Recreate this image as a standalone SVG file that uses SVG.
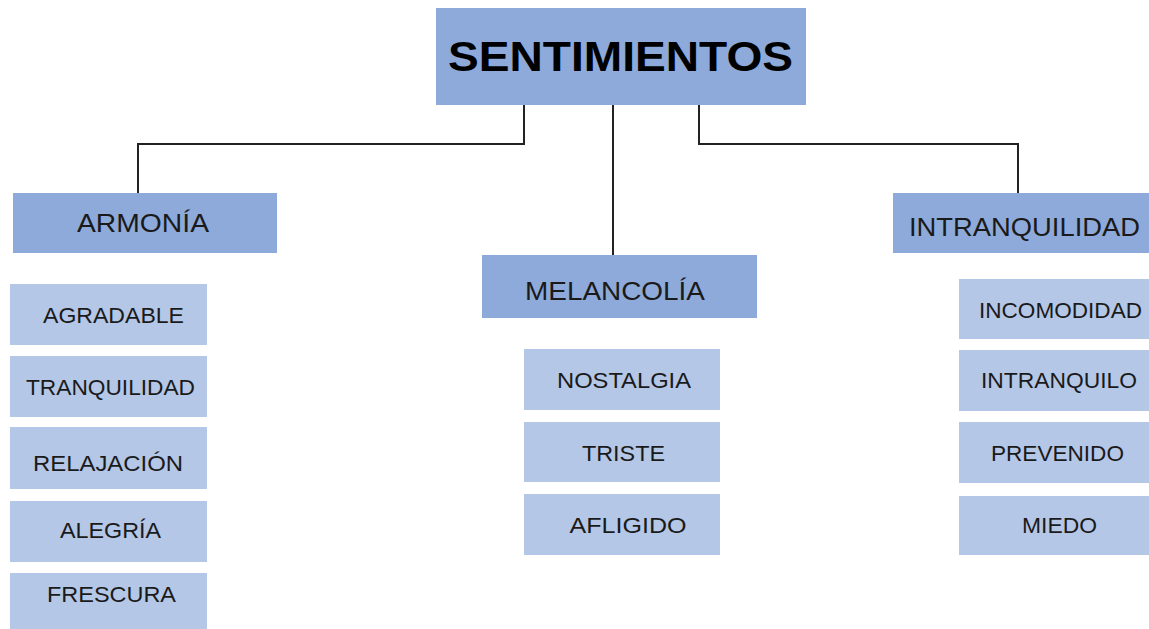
<svg xmlns="http://www.w3.org/2000/svg" width="1149" height="629" viewBox="0 0 1149 629">
<style>
.top{fill:#8eaadb}
.l2{fill:#8eaadb}
.sub{fill:#b4c7e7}
text{font-family:"Liberation Sans",Arial,sans-serif;fill:#1a1a1a;text-anchor:middle}
.t0{font-size:43px;font-weight:bold;fill:#000}
.t2{font-size:26px}
.t3{font-size:22px}
.conn{fill:none;stroke:#222;stroke-width:2}
</style>
<rect width="1149" height="629" fill="#fff"/>
<g id="connectors">
<path class="conn" d="M524,105 V144 H138 V193"/>
<path class="conn" d="M613,105 V255"/>
<path class="conn" d="M699,105 V144 H1018 V193"/>
</g>
<g id="sentimientos"><rect class="top" x="436" y="8" width="370" height="97"/><text class="t0" x="620.5" y="71" textLength="345" lengthAdjust="spacingAndGlyphs">SENTIMIENTOS</text></g>
<g id="armonia"><rect class="l2" x="13" y="193" width="264" height="60"/><text class="t2" x="143" y="232" textLength="132" lengthAdjust="spacingAndGlyphs">ARMONÍA</text></g>
<g id="melancolia"><rect class="l2" x="482" y="255" width="275" height="63"/><text class="t2" x="615" y="300" textLength="180" lengthAdjust="spacingAndGlyphs">MELANCOLÍA</text></g>
<g id="intranquilidad"><rect class="l2" x="893" y="193" width="264" height="60"/><text class="t2" x="1024.5" y="236" textLength="231" lengthAdjust="spacingAndGlyphs">INTRANQUILIDAD</text></g>
<g id="agradable"><rect class="sub" x="10" y="284" width="197" height="61"/><text class="t3" x="113.5" y="323" textLength="141" lengthAdjust="spacingAndGlyphs">AGRADABLE</text></g>
<g id="tranquilidad"><rect class="sub" x="10" y="356" width="197" height="61"/><text class="t3" x="110.5" y="395" textLength="169" lengthAdjust="spacingAndGlyphs">TRANQUILIDAD</text></g>
<g id="relajacion"><rect class="sub" x="10" y="427" width="197" height="62"/><text class="t3" x="108" y="471" textLength="150" lengthAdjust="spacingAndGlyphs">RELAJACIÓN</text></g>
<g id="alegria"><rect class="sub" x="10" y="501" width="197" height="61"/><text class="t3" x="110.5" y="538" textLength="101" lengthAdjust="spacingAndGlyphs">ALEGRÍA</text></g>
<g id="frescura"><rect class="sub" x="10" y="573" width="197" height="62"/><text class="t3" x="111.5" y="602" textLength="129" lengthAdjust="spacingAndGlyphs">FRESCURA</text></g>
<g id="nostalgia"><rect class="sub" x="524" y="349" width="196" height="61"/><text class="t3" x="624" y="388" textLength="134" lengthAdjust="spacingAndGlyphs">NOSTALGIA</text></g>
<g id="triste"><rect class="sub" x="524" y="422" width="196" height="60"/><text class="t3" x="623.5" y="461" textLength="83" lengthAdjust="spacingAndGlyphs">TRISTE</text></g>
<g id="afligido"><rect class="sub" x="524" y="494" width="196" height="61"/><text class="t3" x="628" y="533" textLength="117" lengthAdjust="spacingAndGlyphs">AFLIGIDO</text></g>
<g id="incomodidad"><rect class="sub" x="959" y="279" width="198" height="60"/><text class="t3" x="1060.5" y="318" textLength="163" lengthAdjust="spacingAndGlyphs">INCOMODIDAD</text></g>
<g id="intranquilo"><rect class="sub" x="959" y="350" width="198" height="61"/><text class="t3" x="1059" y="388" textLength="156" lengthAdjust="spacingAndGlyphs">INTRANQUILO</text></g>
<g id="prevenido"><rect class="sub" x="959" y="422" width="198" height="61"/><text class="t3" x="1057.5" y="461" textLength="133" lengthAdjust="spacingAndGlyphs">PREVENIDO</text></g>
<g id="miedo"><rect class="sub" x="959" y="496" width="198" height="59"/><text class="t3" x="1059.5" y="533" textLength="75" lengthAdjust="spacingAndGlyphs">MIEDO</text></g>
</svg>
